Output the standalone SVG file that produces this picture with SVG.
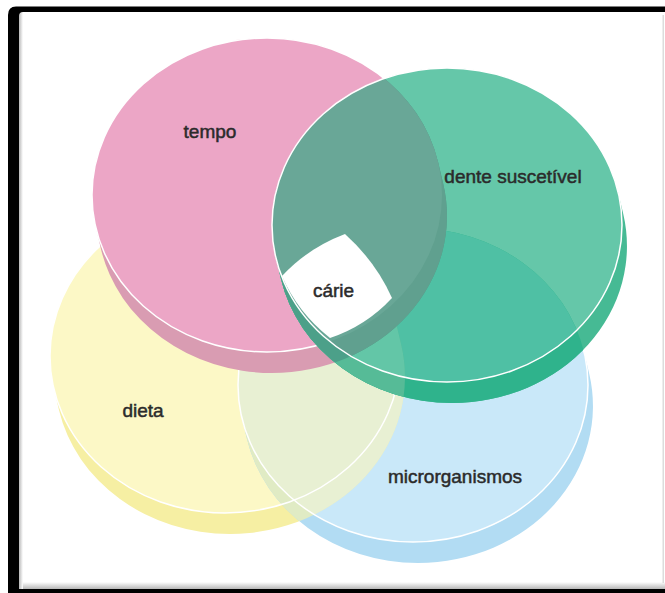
<svg xmlns="http://www.w3.org/2000/svg" width="665" height="593" viewBox="0 0 665 593">
<style>
.lbl{font-family:"Liberation Sans",Arial,sans-serif;font-size:19px;fill:#2b2b2b;stroke:#2b2b2b;stroke-width:0.5;text-anchor:middle}
.edge{fill:none;stroke:#fff;stroke-width:1.5}
</style>
<defs>
<path id="pinkShape" d="M443.1 183.2 A175 157 0 0 1 272 373 A175 157 0 0 1 100.9 248.8 L95.9 227.8 A175 157 0 0 1 267 38 A175 157 0 0 1 438.1 162.2 Z"/>
<path id="greenShape" d="M623.1 213.2 A175 157 0 0 1 452 403 A175 157 0 0 1 280.9 278.8 L275.9 257.8 A175 157 0 0 1 447 68 A175 157 0 0 1 618.1 192.2 Z"/>
<path id="yellowShape" d="M401.1 344.2 A175 157 0 0 1 230 534 A175 157 0 0 1 58.9 409.8 L53.9 388.8 A175 157 0 0 1 225 199 A175 157 0 0 1 396.1 323.2 Z"/>
<path id="blueShape" d="M589.1 373.2 A175 157 0 0 1 418 563 A175 157 0 0 1 246.9 438.8 L241.9 417.8 A175 157 0 0 1 413 228 A175 157 0 0 1 584.1 352.2 Z"/>
<ellipse id="pinkFace" cx="267" cy="195" rx="175" ry="157"/>
<ellipse id="greenFace" cx="447" cy="225" rx="175" ry="157"/>
<ellipse id="yellowFace" cx="225" cy="356" rx="175" ry="157"/>
<ellipse id="blueFace" cx="413" cy="385" rx="175" ry="157"/>
<clipPath id="cPink"><use href="#pinkShape"/></clipPath>
<clipPath id="cPinkFace"><use href="#pinkFace"/></clipPath>
<clipPath id="cYellow"><use href="#yellowShape"/></clipPath>
<clipPath id="cBlue"><use href="#blueShape"/></clipPath>
<linearGradient id="gl" x1="0" y1="0" x2="1" y2="0"><stop offset="0" stop-color="#b8b8b8"/><stop offset="1" stop-color="#fff"/></linearGradient>
<linearGradient id="gb" x1="0" y1="1" x2="0" y2="0"><stop offset="0" stop-color="#b8b8b8"/><stop offset="1" stop-color="#fff"/></linearGradient>
</defs>
<rect width="665" height="593" fill="#fff"/>
<g id="frame">
<rect x="19" y="582" width="646" height="7" fill="url(#gb)"/>
<rect x="19" y="12" width="4" height="577" fill="url(#gl)"/>
<rect x="662.5" y="15" width="1.5" height="568" fill="#dcdcdc"/>
<path d="M8 593 L8 15 Q8 6.5 16 6.5 L665 6.5 L665 12 L23 12 Q19 12 19 16 L19 593 Z" fill="#000"/>
<rect x="10" y="589" width="655" height="4" fill="#000"/>
</g>
<g id="dieta">
<use href="#yellowShape" fill="#f6efa3"/>
<use href="#yellowFace" fill="#fcf8c6"/>
</g>
<g id="microrganismos">
<use href="#blueShape" fill="#b2dcf3"/>
<use href="#blueFace" fill="#c9e8f9"/>
<g clip-path="url(#cYellow)">
<use href="#blueShape" fill="#e0ebc4"/>
<use href="#blueFace" fill="#e8f0d3"/>
</g>
<use href="#blueFace" class="edge"/>
<use href="#yellowFace" class="edge"/>
</g>
<g id="tempo">
<use href="#pinkShape" fill="#d99cb2"/>
<use href="#pinkFace" fill="#eca6c6"/>
<use href="#pinkFace" class="edge"/>
</g>
<g id="dente-suscetivel">
<use href="#greenShape" fill="#46ba94"/>
<use href="#greenFace" fill="#65c7a9"/>
<g clip-path="url(#cBlue)">
<use href="#greenShape" fill="#2fb38c"/>
<use href="#greenFace" fill="#4fc0a4"/>
</g>
<g clip-path="url(#cYellow)">
<use href="#greenShape" fill="#56bb97"/>
<use href="#greenFace" fill="#63c6a7"/>
</g>
<g clip-path="url(#cPink)">
<use href="#greenShape" fill="#4ca089"/>
<use href="#greenFace" fill="#60a08f"/>
</g>
<g clip-path="url(#cPinkFace)">
<use href="#greenFace" fill="#69a797"/>
</g>
<use href="#greenFace" class="edge"/>
</g>
<g id="carie">
<path d="M282 276 Q308 248 345 234 Q376 262 392 298 Q366 326 330 338 A175 157 0 0 1 282 276 Z" fill="#fff"/>
</g>
<g id="labels">
<text class="lbl" x="210" y="137.5">tempo</text>
<text class="lbl" x="513" y="183">dente suscetível</text>
<text class="lbl" x="333.5" y="296.5">cárie</text>
<text class="lbl" x="143" y="416.5">dieta</text>
<text class="lbl" x="455" y="482.5">microrganismos</text>
</g>
</svg>
